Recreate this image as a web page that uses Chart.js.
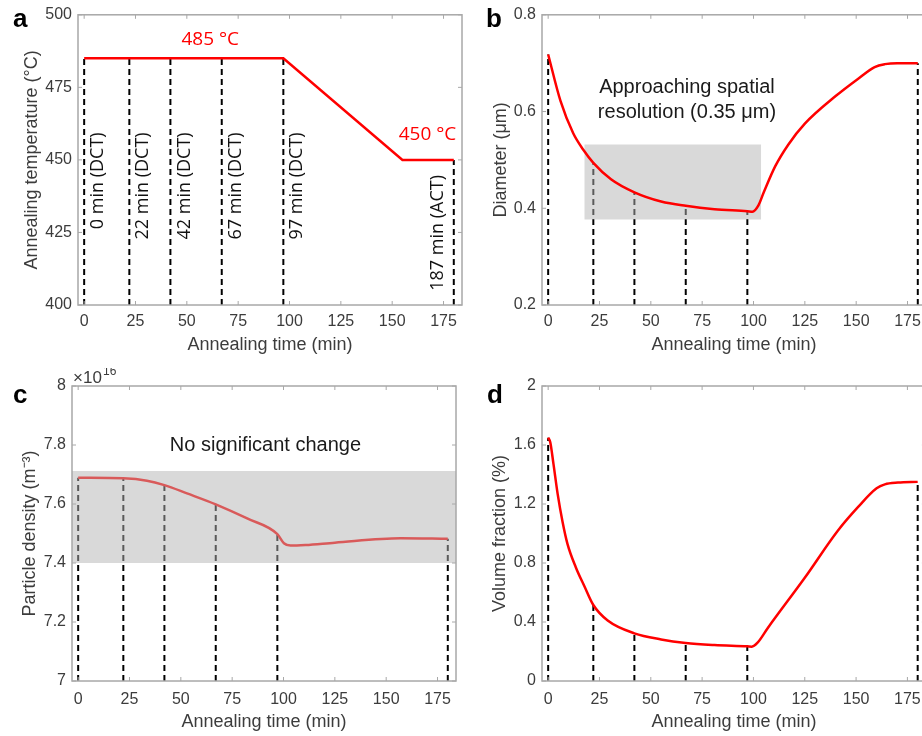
<!DOCTYPE html>
<html>
<head>
<meta charset="utf-8">
<title>Annealing series</title>
<script src="https://cdn.jsdelivr.net/npm/chart.js@4.4.1/dist/chart.umd.min.js"></script>
<style>
    html, body { margin: 0; padding: 0; background: #fff; }
    body { position: relative; width: 922px; height: 736px; overflow: hidden; }
    .panel { position: absolute; width: 470px; height: 368px; }
    .tag { position: absolute; font: bold 26px 'Liberation Sans', Arial, sans-serif; line-height: 26px; color: #000; }
</style>
</head>
<body>
<div class="panel" style="left:0;top:0"><canvas id="tempChart" width="470" height="368"></canvas></div>
<div class="panel" style="left:461px;top:0"><canvas id="diamChart" width="470" height="368"></canvas></div>
<div class="panel" style="left:0;top:368px"><canvas id="densChart" width="470" height="368"></canvas></div>
<div class="panel" style="left:461px;top:368px"><canvas id="volChart" width="470" height="368"></canvas></div>
<div class="tag" style="left:13px;top:5px">a</div>
<div class="tag" style="left:486px;top:5px">b</div>
<div class="tag" style="left:13px;top:381px">c</div>
<div class="tag" style="left:487px;top:381px">d</div>

<script>
// shared x axis and the sampled times (dashed lines)
const timeTicks = [0, 25, 50, 75, 100, 125, 150, 175];
const sampleTimes = [0, 22, 42, 67, 97, 180];
const sampleLabels = ['0 min (DCT)', '22 min (DCT)', '42 min (DCT)', '67 min (DCT)', '97 min (DCT)', '187 min (ACT)'];

// a - annealing temperature profile
const tempTime = [0, 97, 155, 180];
const tempValue = [485, 485, 450, 450];
const tempTicks = [400, 425, 450, 475, 500];
const tempAtSamples = [485, 485, 485, 485, 485, 450];

// b - particle diameter (um)
const diamTime = [0, 6, 12.2, 17.1, 22, 30.6, 42, 55, 67, 81, 97, 99.5, 102.4, 105, 110.6, 117, 125, 140, 151, 159, 164, 170, 180];
const diamValue = [0.718, 0.622, 0.555, 0.521, 0.494, 0.46, 0.433, 0.414, 0.405, 0.398, 0.394, 0.393, 0.406, 0.433, 0.487, 0.532, 0.575, 0.632, 0.668, 0.692, 0.698, 0.70, 0.70];
const diamTicks = [0.2, 0.4, 0.6, 0.8];
const diamAtSamples = [0.718, 0.494, 0.433, 0.405, 0.394, 0.70];
const resolutionBandTime = [17.6, 103.7];
const resolutionBandDiam = [0.377, 0.532];

// c - particle density (x 1e16 m^-3)
const densTime = [0, 22, 33.5, 42, 53, 67, 82.3, 97, 100.2, 103.4, 110.7, 125, 157, 180];
const densValue = [7.689, 7.687, 7.679, 7.664, 7.636, 7.599, 7.551, 7.498, 7.467, 7.459, 7.461, 7.469, 7.484, 7.482];
const densTicks = [7, 7.2, 7.4, 7.6, 7.8, 8];
const densAtSamples = [7.689, 7.687, 7.664, 7.599, 7.498, 7.482];
const densBand = [7.4, 7.712];

// d - volume fraction (%)
const volTime = [0, 1, 2.6, 4.6, 7, 9.4, 13.5, 17.6, 22, 29, 42, 55, 67, 81, 97, 99.2, 102, 107, 125, 141, 151, 160, 164, 170.4, 180];
const volValue = [1.65, 1.62, 1.47, 1.27, 1.08, 0.93, 0.77, 0.644, 0.515, 0.41, 0.323, 0.282, 0.258, 0.244, 0.235, 0.233, 0.26, 0.36, 0.70, 1.017, 1.18, 1.306, 1.333, 1.345, 1.35];
const volTicks = [0, 0.4, 0.8, 1.2, 1.6, 2];
const volAtSamples = [1.65, 0.515, 0.323, 0.258, 0.235, 1.35];

const textColor = '#3c3c3c';
const axisColor = '#a8a8a8';
const red = '#ff0000';
const tickFont = { family: 'Liberation Sans', size: 16, lineHeight: 1.1 };
const titleFont = { family: 'Liberation Sans', size: 18 };

function points(xs, ys) {
    return xs.map((v, i) => ({ x: v, y: ys[i] }));
}

function curve(xs, ys, smooth) {
    return {
        data: points(xs, ys),
        borderColor: red,
        borderWidth: 2.5,
        pointRadius: 0,
        fill: false,
        tension: 0,
        cubicInterpolationMode: smooth ? 'monotone' : 'default'
    };
}

// one dashed drop line per sample time, from the axis floor up to the curve
function dropLines(tops, floor) {
    return sampleTimes.map((t, i) => ({
        data: [{ x: t, y: floor }, { x: t, y: tops[i] }],
        borderColor: '#000',
        borderWidth: 2,
        borderDash: [6, 4],
        pointRadius: 0,
        fill: false
    }));
}

// grey shaded band, filled down to its lower value
function band(xs, ys) {
    return {
        data: [{ x: xs[0], y: ys[1] }, { x: xs[1], y: ys[1] }],
        fill: { value: ys[0] },
        backgroundColor: 'rgba(179,179,179,0.5)',
        borderColor: 'rgba(0,0,0,0)',
        borderWidth: 0,
        pointRadius: 0
    };
}

// box, inward ticks on all sides, and text annotations
function decor(spec) {
    return {
        id: 'decor',
        afterDatasetsDraw(chart) {
            const { ctx, chartArea: a, scales: { x, y } } = chart;
            ctx.save();
            ctx.strokeStyle = axisColor;
            ctx.lineWidth = 1.5;
            ctx.strokeRect(a.left, a.top, a.right - a.left, a.bottom - a.top);
            ctx.lineWidth = 1;
            ctx.beginPath();
            x.ticks.forEach(t => {
                const px = x.getPixelForValue(t.value);
                ctx.moveTo(px, a.bottom); ctx.lineTo(px, a.bottom - 4);
                ctx.moveTo(px, a.top); ctx.lineTo(px, a.top + 4);
            });
            y.ticks.forEach(t => {
                const py = y.getPixelForValue(t.value);
                ctx.moveTo(a.left, py); ctx.lineTo(a.left + 4, py);
                ctx.moveTo(a.right, py); ctx.lineTo(a.right - 4, py);
            });
            ctx.stroke();

            ctx.textAlign = 'center';
            ctx.textBaseline = 'middle';
            (spec.texts || []).forEach(t => {
                ctx.font = t.font;
                ctx.fillStyle = t.color;
                ctx.fillText(t.text, x.getPixelForValue(t.x), y.getPixelForValue(t.y));
            });

            (spec.vtexts || []).forEach(t => {
                ctx.save();
                ctx.translate(x.getPixelForValue(t.x) + t.dx, y.getPixelForValue(t.y));
                ctx.rotate(-Math.PI / 2);
                ctx.font = '18px "Open Sans"';
                ctx.fillStyle = '#111';
                ctx.textAlign = 'right';
                ctx.textBaseline = 'middle';
                ctx.fillText(t.text, 0, 0);
                ctx.restore();
            });

            if (spec.exponent) {
                ctx.fillStyle = textColor;
                ctx.textAlign = 'left';
                ctx.textBaseline = 'alphabetic';
                ctx.font = '17px "Liberation Sans"';
                ctx.fillText('×10', a.left + 1, a.top - 3);
                ctx.font = '12px "Liberation Sans"';
                ctx.fillText('16', a.left + 31, a.top - 11);
            }
            ctx.restore();
        }
    };
}

function panelOptions(p) {
    return {
        responsive: false,
        animation: false,
        layout: { padding: { top: p.padTop, right: p.padRight, left: 0, bottom: 0 } },
        plugins: {
            legend: { display: false },
            tooltip: { enabled: false }
        },
        scales: {
            x: {
                type: 'linear',
                min: -3,
                max: 184,
                grid: { display: false, drawTicks: false },
                border: { display: false },
                ticks: { color: textColor, font: tickFont, padding: p.xTickPad, maxRotation: 0, autoSkip: false },
                afterBuildTicks: s => { s.ticks = timeTicks.map(v => ({ value: v })); },
                afterFit: s => { s.height = p.xHeight; },
                title: {
                    display: true,
                    text: 'Annealing time (min)',
                    color: textColor,
                    font: titleFont,
                    padding: { top: 0, bottom: p.xTitlePad }
                }
            },
            y: {
                type: 'linear',
                min: p.yTicks[0],
                max: p.yTicks[p.yTicks.length - 1],
                grid: { display: false, drawTicks: false },
                border: { display: false },
                ticks: { color: textColor, font: tickFont, padding: 6, callback: v => String(v) },
                afterBuildTicks: s => { s.ticks = p.yTicks.map(v => ({ value: v })); },
                afterFit: s => { s.width = p.yWidth; },
                title: {
                    display: true,
                    text: p.yTitle,
                    color: textColor,
                    font: titleFont,
                    padding: { top: p.yTitlePad, bottom: 0 }
                }
            }
        }
    };
}

// a. Annealing temperature
new Chart(document.getElementById('tempChart'), {
    type: 'line',
    data: {
        datasets: [curve(tempTime, tempValue, false), ...dropLines(tempAtSamples, 400)]
    },
    options: panelOptions({
        padTop: 9, padRight: 8, xHeight: 63, yWidth: 78,
        xTickPad: 8, xTitlePad: 12, yTitlePad: 21,
        yTicks: tempTicks, yTitle: 'Annealing temperature (°C)'
    }),
    plugins: [decor({
        texts: [
            { text: '485 °C', x: 61.4, y: 491.3, color: red, font: '19px "Open Sans"' },
            { text: '450 °C', x: 167.2, y: 458.8, color: red, font: '19px "Open Sans"' }
        ],
        vtexts: sampleLabels.map((s, i) => ({
            text: s,
            x: sampleTimes[i],
            y: i < 5 ? 459.5 : 444.8,
            dx: i < 5 ? 14 : -16
        }))
    })]
});

// b. Diameter
new Chart(document.getElementById('diamChart'), {
    type: 'line',
    data: {
        datasets: [
            curve(diamTime, diamValue, true),
            band(resolutionBandTime, resolutionBandDiam),
            ...dropLines(diamAtSamples, 0.2)
        ]
    },
    options: panelOptions({
        padTop: 9, padRight: 5, xHeight: 63, yWidth: 81,
        xTickPad: 8, xTitlePad: 12, yTitlePad: 29,
        yTicks: diamTicks, yTitle: 'Diameter (μm)'
    }),
    plugins: [decor({
        texts: [
            { text: 'Approaching spatial', x: 67.6, y: 0.649, color: '#1a1a1a', font: '20px "Liberation Sans"' },
            { text: 'resolution (0.35 μm)', x: 67.6, y: 0.599, color: '#1a1a1a', font: '20px "Liberation Sans"' }
        ]
    })]
});

// c. Particle density
new Chart(document.getElementById('densChart'), {
    type: 'line',
    data: {
        datasets: [
            band([-3, 184], densBand),
            curve(densTime, densValue, true),
            ...dropLines(densAtSamples, 7)
        ]
    },
    options: panelOptions({
        padTop: 18, padRight: 14, xHeight: 55, yWidth: 72,
        xTickPad: 10, xTitlePad: 3, yTitlePad: 19,
        yTicks: densTicks, yTitle: 'Particle density (m⁻³)'
    }),
    plugins: [decor({
        texts: [
            { text: 'No significant change', x: 91.2, y: 7.80, color: '#1a1a1a', font: '20px "Liberation Sans"' }
        ],
        exponent: true
    })]
});

// d. Volume fraction
new Chart(document.getElementById('volChart'), {
    type: 'line',
    data: {
        datasets: [curve(volTime, volValue, true), ...dropLines(volAtSamples, 0)]
    },
    options: panelOptions({
        padTop: 18, padRight: 5, xHeight: 55, yWidth: 81,
        xTickPad: 10, xTitlePad: 3, yTitlePad: 28,
        yTicks: volTicks, yTitle: 'Volume fraction (%)'
    }),
    plugins: [decor({})]
});
</script>
</body>
</html>
